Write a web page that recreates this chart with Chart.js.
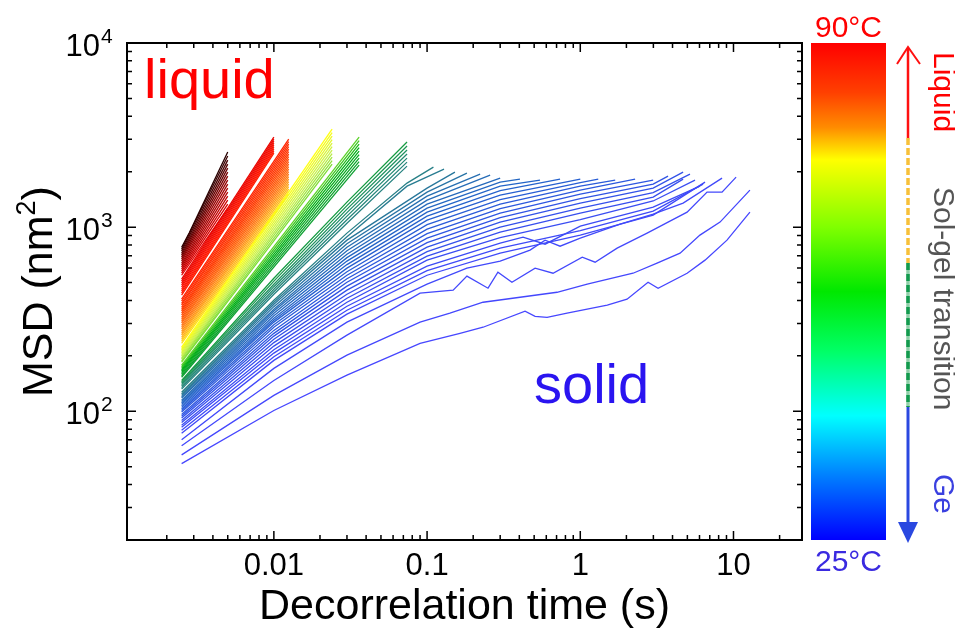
<!DOCTYPE html>
<html>
<head>
<meta charset="utf-8">
<script src="https://cdn.jsdelivr.net/npm/chart.js@4"></script>
<style>
  html, body { margin: 0; padding: 0; background: #fff; overflow: hidden; }
</style>
</head>
<body>
<canvas id="msdChart" width="955" height="628"></canvas>
<script>
// sample temperature (°C) of each MSD curve, cold -> hot
const temperatures = [
  25, 25.5, 26, 26.5, 27, 27.5, 28, 28.5, 29, 29.5, 30, 30.5, 31, 31.5, 32, 32.5, 33, 33.5,
  34, 34.5, 35, 35.5, 36, 37, 38, 39, 40,
  41, 42, 43, 44, 45, 46, 47,
  48, 49, 50, 51, 52, 53, 54, 55, 56,
  57, 57.5, 58, 58.5, 59, 59.5, 60, 60.5, 61, 61.5, 62,
  63, 63.5, 64, 64.5, 65, 65.5, 66, 66.5, 67, 67.5, 68, 68.5, 69, 69.5, 70, 70.5, 71, 71.5,
  72, 72.5, 73, 73.5, 74,
  75, 75.5, 76, 76.5, 77, 77.5, 78, 78.5, 79,
  80, 80.7, 81.4, 82.1, 82.9, 83.6, 84.3, 85, 85.7, 86.4, 87.1, 87.9, 88.6, 89.3, 90
];

// [decorrelation time (s), MSD (nm^2)], one list per temperature
const msdCurves = [
  // gel
  [[0.0025,52],[0.01,101],[0.03,157],[0.09,234],[0.164,265],[0.232,286],[0.436,350],[0.507,328],[0.607,324],[0.82,341],[1.5,377],[2.02,406],[2.77,502],[3.22,466],[4.98,562],[6.52,662],[9.07,850],[12.8,1206]],
  [[0.0025,58],[0.01,122],[0.03,202],[0.09,305],[0.141,341],[0.232,391],[0.705,443],[1.11,490],[2.21,562],[3.17,637],[4.48,722],[6.04,905],[8.17,1065],[12.8,1589]],
  [[0.0025,65],[0.01,147],[0.03,259],[0.09,438],[0.148,455],[0.182,542],[0.25,466],[0.29,569],[0.358,502],[0.507,599],[0.664,562],[1.03,687],[1.25,645],[1.74,769],[2.73,928],[3.74,1065],[4.98,1206],[6.72,1550],[8.42,1550],[10.4,1869]],
  [[0.0025,70],[0.01,171],[0.03,305],[0.1,490],[0.182,599],[0.3,654],[0.47,750],[0.589,850],[0.738,788],[1,871],[1.82,1038],[2.99,1177],[4.69,1350],[8.42,1846]],
  [[0.0025,76],[0.01,189],[0.03,337],[0.1,548],[0.3,722],[1,905],[2.99,1162],[6.52,1756]],
  [[0.0025,79],[0.01,198],[0.03,354],[0.1,580],[0.3,769],[1,957],[2.99,1222],[6.33,1712]],
  [[0.0025,82],[0.01,207],[0.03,372],[0.1,614],[0.3,818],[0.423,883],[0.589,808],[1,1013],[2.99,1284],[6.04,1670]],
  [[0.0025,84],[0.01,216],[0.03,391],[0.1,662],[0.3,877],[1,1099],[2.99,1387],[5.61,1800]],
  [[0.0025,87],[0.01,226],[0.03,411],[0.1,696],[0.3,939],[1,1192],[2.99,1455],[4.69,1823]],
  [[0.0025,89],[0.01,236],[0.03,432],[0.1,736],[0.3,1000],[1,1269],[2.99,1540],[5.2,1941]],
  [[0.0025,92],[0.01,246],[0.03,455],[0.1,778],[0.3,1065],[1,1350],[2.99,1629],[4.69,1991]],
  [[0.0025,94],[0.01,256],[0.03,478],[0.1,824],[0.3,1126],[1,1428],[2.99,1712],[3.74,1893]],
  [[0.0025,96],[0.01,265],[0.03,502],[0.1,871],[0.3,1192],[1,1511],[2.99,1800]],
  [[0.0025,99],[0.01,275],[0.03,525],[0.1,922],[0.3,1261],[1,1589],[2.28,1823]],
  [[0.0025,101],[0.01,286],[0.03,548],[0.1,975],[0.3,1334],[1,1670],[1.69,1800]],
  [[0.0025,103],[0.01,295],[0.03,573],[0.1,1032],[0.3,1411],[1,1745],[1.31,1823]],
  [[0.0025,105],[0.01,305],[0.03,599],[0.1,1092],[0.3,1493],[1,1823]],
  [[0.0025,107],[0.01,312],[0.03,626],[0.1,1148],[0.3,1579],[0.738,1823]],
  [[0.0025,109],[0.01,320],[0.03,654],[0.1,1206],[0.3,1670],[0.546,1800]],
  [[0.0025,111],[0.01,330],[0.03,683],[0.1,1269],[0.3,1756],[0.404,1823]],
  [[0.0025,113],[0.01,341],[0.03,713],[0.1,1334],[0.3,1846]],
  [[0.0025,115],[0.01,350],[0.03,745],[0.1,1402],[0.258,1918]],
  [[0.0025,118],[0.01,358],[0.03,778],[0.1,1474],[0.222,1941]],
  [[0.0025,120],[0.01,370],[0.03,813],[0.1,1550],[0.182,1966]],
  [[0.0025,122],[0.01,381],[0.03,850],[0.1,1629],[0.152,1991]],
  [[0.0025,124],[0.01,391],[0.03,888],[0.074,1670],[0.129,2067]],
  [[0.0025,127],[0.01,401],[0.03,928],[0.074,1734],[0.11,2119]],
  // sol-gel transition
  [[0.0025,132],[0.01,432],[0.03,1051],[0.074,2145]],
  [[0.0025,134.5],[0.01,446],[0.03,1098],[0.074,2255]],
  [[0.0025,137],[0.01,460],[0.03,1148],[0.074,2371]],
  [[0.0025,139.5],[0.01,475],[0.03,1199],[0.074,2493]],
  [[0.0025,142],[0.01,490],[0.03,1253],[0.074,2621]],
  [[0.0025,144.5],[0.01,509],[0.03,1309],[0.074,2756]],
  [[0.0025,147],[0.01,528],[0.03,1368],[0.074,2897]],
  [[0.0025,153],[0.036,2173]],
  [[0.0025,156],[0.036,2270]],
  [[0.0025,159],[0.036,2371]],
  [[0.0025,162],[0.036,2477]],
  [[0.0025,165],[0.036,2588]],
  [[0.0025,168],[0.036,2704]],
  [[0.0025,171],[0.036,2825]],
  [[0.0025,174.5],[0.036,2952]],
  [[0.0025,178],[0.036,3085]],
  [[0.0025,185],[0.024,2199]],
  [[0.0025,188],[0.024,2298]],
  [[0.0025,192],[0.024,2401]],
  [[0.0025,195],[0.024,2508]],
  [[0.0025,199],[0.024,2621]],
  [[0.0025,203],[0.024,2738]],
  [[0.0025,207],[0.024,2861]],
  [[0.0025,211],[0.024,2989]],
  [[0.0025,215],[0.024,3124]],
  [[0.0025,219],[0.024,3263]],
  [[0.0025,223],[0.024,3410]],
  // liquid
  [[0.0025,234],[0.0125,1511]],
  [[0.0025,240],[0.0125,1559]],
  [[0.0025,246],[0.0125,1609]],
  [[0.0025,252],[0.0125,1660]],
  [[0.0025,259],[0.0125,1712]],
  [[0.0025,265],[0.0125,1767]],
  [[0.0025,272],[0.0125,1823]],
  [[0.0025,279],[0.0125,1882]],
  [[0.0025,286],[0.0125,1941]],
  [[0.0025,293],[0.0125,2003]],
  [[0.0025,301],[0.0125,2067]],
  [[0.0025,308],[0.0125,2132]],
  [[0.0025,316],[0.0125,2199]],
  [[0.0025,324],[0.0125,2270]],
  [[0.0025,333],[0.0125,2342]],
  [[0.0025,341],[0.0125,2417]],
  [[0.0025,350],[0.0125,2493]],
  [[0.0025,358],[0.0125,2572]],
  [[0.0025,367],[0.0125,2654]],
  [[0.0025,377],[0.0125,2738]],
  [[0.0025,386],[0.0125,2825]],
  [[0.0025,396],[0.0125,2915]],
  [[0.0025,406],[0.0125,3008]],
  [[0.0025,427],[0.01,2524]],
  [[0.0025,438],[0.01,2588]],
  [[0.0025,449],[0.01,2654]],
  [[0.0025,460],[0.01,2721]],
  [[0.0025,472],[0.01,2790]],
  [[0.0025,484],[0.01,2861]],
  [[0.0025,496],[0.01,2934]],
  [[0.0025,509],[0.01,3008]],
  [[0.0025,522],[0.01,3085]],
  [[0.0025,548],[0.005,1269]],
  [[0.0025,562],[0.005,1334]],
  [[0.0025,577],[0.005,1402]],
  [[0.0025,591],[0.005,1474]],
  [[0.0025,606],[0.005,1550]],
  [[0.0025,622],[0.005,1629]],
  [[0.0025,637],[0.005,1712]],
  [[0.0025,654],[0.005,1800]],
  [[0.0025,670],[0.005,1893]],
  [[0.0025,687],[0.005,1991]],
  [[0.0025,705],[0.005,2093]],
  [[0.0025,722],[0.005,2199]],
  [[0.0025,741],[0.005,2313]],
  [[0.0025,759],[0.005,2432]],
  [[0.0025,778],[0.0028,928],[0.005,2556]]
];

const xMajorTicks = [0.01, 0.1, 1, 10];
const xTickLabels = ['0.01', '0.1', '1', '10'];
const yMajorTicks = [100, 1000, 10000];
const yTickExponents = ['2', '3', '4'];

// line colours by temperature
const lineStops = [
  [25, [70, 70, 255]], [28, [60, 75, 245]], [31, [45, 85, 225]], [34, [35, 100, 200]],
  [37, [40, 115, 165]], [40, [40, 128, 135]], [44, [35, 140, 110]], [48, [15, 160, 50]],
  [53, [0, 175, 20]], [56, [90, 210, 40]], [59, [200, 240, 80]], [62, [255, 255, 20]],
  [64, [255, 190, 30]], [67, [255, 120, 20]], [71, [255, 60, 0]], [76, [255, 20, 0]],
  [80, [225, 0, 0]], [85, [150, 0, 0]], [90, [40, 0, 0]]
];

function lineColor(t) {
  for (let i = 1; i < lineStops.length; i++) {
    if (t <= lineStops[i][0]) {
      const [t0, c0] = lineStops[i - 1], [t1, c1] = lineStops[i];
      const f = (t - t0) / (t1 - t0);
      const c = c0.map((v, k) => Math.round(v + (c1[k] - v) * f));
      return `rgb(${c[0]},${c[1]},${c[2]})`;
    }
  }
  const c = lineStops[lineStops.length - 1][1];
  return `rgb(${c[0]},${c[1]},${c[2]})`;
}

const FONT = '"Liberation Sans", Arial, sans-serif';

function vText(ctx, str, x, y, color) {
  ctx.save();
  ctx.translate(x, y);
  ctx.rotate(Math.PI / 2);
  ctx.fillStyle = color;
  ctx.textAlign = 'left';
  ctx.textBaseline = 'alphabetic';
  ctx.fillText(str, 0, 0);
  ctx.restore();
}

const overlay = {
  id: 'overlay',
  afterDraw(chart) {
    const ctx = chart.ctx;
    const a = chart.chartArea;
    const xs = chart.scales.x, ys = chart.scales.y;
    ctx.save();

    // frame
    ctx.strokeStyle = '#000';
    ctx.lineWidth = 2;
    ctx.strokeRect(a.left, a.top, a.right - a.left, a.bottom - a.top);

    // inward ticks
    ctx.lineWidth = 1.5;
    ctx.beginPath();
    for (let e = -3; e <= 1; e++) {
      for (let k = 1; k <= 9; k++) {
        const v = k * Math.pow(10, e);
        if (v <= xs.min || v >= xs.max) continue;
        const px = xs.getPixelForValue(v);
        const len = k === 1 ? 9 : 5;
        ctx.moveTo(px, a.bottom); ctx.lineTo(px, a.bottom - len);
        ctx.moveTo(px, a.top); ctx.lineTo(px, a.top + len);
      }
    }
    for (let e = 1; e <= 3; e++) {
      for (let k = 1; k <= 9; k++) {
        const v = k * Math.pow(10, e);
        if (v <= ys.min || v >= ys.max) continue;
        const py = ys.getPixelForValue(v);
        const len = k === 1 ? 9 : 5;
        ctx.moveTo(a.left, py); ctx.lineTo(a.left + len, py);
        ctx.moveTo(a.right, py); ctx.lineTo(a.right - len, py);
      }
    }
    ctx.stroke();

    // tick labels
    ctx.fillStyle = '#000';
    ctx.font = '31px ' + FONT;
    ctx.textAlign = 'center';
    ctx.textBaseline = 'alphabetic';
    xMajorTicks.forEach((v, i) => {
      ctx.fillText(xTickLabels[i], xs.getPixelForValue(v), 575);
    });
    yMajorTicks.forEach((v, i) => {
      const py = ys.getPixelForValue(v);
      ctx.font = '31px ' + FONT;
      ctx.textAlign = 'right';
      ctx.fillText('10', 100, py + 13);
      ctx.font = '21px ' + FONT;
      ctx.textAlign = 'left';
      ctx.fillText(yTickExponents[i], 101, py);
    });

    // axis titles
    ctx.font = '43px ' + FONT;
    ctx.textAlign = 'center';
    ctx.fillText('Decorrelation time (s)', (a.left + a.right) / 2, 619);

    ctx.save();
    ctx.translate(52, (a.top + a.bottom) / 2);
    ctx.rotate(-Math.PI / 2);
    ctx.textAlign = 'left';
    const big = '43px ' + FONT, small = '27px ' + FONT;
    ctx.font = big;
    const w1 = ctx.measureText('MSD (nm').width;
    ctx.font = small;
    const w2 = ctx.measureText('2').width;
    ctx.font = big;
    const w3 = ctx.measureText(')').width;
    const x0 = -(w1 + w2 + w3) / 2;
    ctx.fillText('MSD (nm', x0, 0);
    ctx.font = small;
    ctx.fillText('2', x0 + w1, -17);
    ctx.font = big;
    ctx.fillText(')', x0 + w1 + w2, 0);
    ctx.restore();

    // in-plot annotations
    ctx.font = '56px ' + FONT;
    ctx.textAlign = 'left';
    ctx.fillStyle = '#ff0000';
    ctx.fillText('liquid', 144, 98);
    ctx.fillStyle = '#2a14f0';
    ctx.fillText('solid', 534, 403);

    // colour bar
    const cbL = 811, cbR = 886;
    const g = ctx.createLinearGradient(0, a.top, 0, a.bottom);
    g.addColorStop(0, '#ff0000');
    g.addColorStop(0.1, '#ff4000');
    g.addColorStop(0.17, '#ff8c00');
    g.addColorStop(0.235, '#ffff00');
    g.addColorStop(0.37, '#80ff00');
    g.addColorStop(0.5, '#00e800');
    g.addColorStop(0.62, '#00ff66');
    g.addColorStop(0.75, '#00ffff');
    g.addColorStop(0.87, '#0080ff');
    g.addColorStop(1, '#0000ff');
    ctx.fillStyle = g;
    ctx.fillRect(cbL, a.top, cbR - cbL, a.bottom - a.top);

    ctx.font = '30px ' + FONT;
    ctx.textAlign = 'center';
    ctx.fillStyle = '#ff0000';
    ctx.fillText('90°C', (cbL + cbR) / 2, 37);
    ctx.fillStyle = '#3a2ae0';
    ctx.fillText('25°C', (cbL + cbR) / 2, 571);

    // state arrow
    const ax = 908;
    ctx.lineCap = 'butt';
    ctx.strokeStyle = '#ff1010';
    ctx.lineWidth = 2.5;
    ctx.beginPath();
    ctx.moveTo(ax, 48); ctx.lineTo(ax, 138);
    ctx.stroke();
    ctx.lineWidth = 2;
    ctx.beginPath();
    ctx.moveTo(897, 64); ctx.lineTo(ax, 47); ctx.lineTo(920, 64);
    ctx.stroke();

    ctx.lineWidth = 3.5;
    ctx.strokeStyle = '#f7c038';
    ctx.setLineDash([7, 3]);
    ctx.beginPath();
    ctx.moveTo(ax, 138); ctx.lineTo(ax, 263);
    ctx.stroke();
    ctx.setLineDash([]);
    ctx.strokeStyle = '#8fd0a8';
    ctx.beginPath();
    ctx.moveTo(ax, 263); ctx.lineTo(ax, 407);
    ctx.stroke();
    ctx.strokeStyle = '#139a4e';
    ctx.setLineDash([7, 4]);
    ctx.beginPath();
    ctx.moveTo(ax, 263); ctx.lineTo(ax, 407);
    ctx.stroke();
    ctx.setLineDash([]);

    ctx.strokeStyle = '#2a48e0';
    ctx.lineWidth = 3;
    ctx.beginPath();
    ctx.moveTo(ax, 407); ctx.lineTo(ax, 524);
    ctx.stroke();
    ctx.fillStyle = '#2a48e0';
    ctx.beginPath();
    ctx.moveTo(898, 522); ctx.lineTo(918, 522); ctx.lineTo(ax, 543);
    ctx.closePath();
    ctx.fill();

    ctx.font = '30px ' + FONT;
    vText(ctx, 'Liquid', 934, 52, '#ff0000');
    vText(ctx, 'Sol-gel transition', 934, 187, '#555555');
    vText(ctx, 'Ge', 934, 474, '#3a40e0');

    ctx.restore();
  }
};

new Chart(document.getElementById('msdChart').getContext('2d'), {
  type: 'line',
  data: {
    datasets: msdCurves.map((c, i) => ({
      data: c.map(p => ({ x: p[0], y: p[1] })),
      borderColor: lineColor(temperatures[i]),
      borderWidth: 1.3,
      pointRadius: 0,
      fill: false,
      tension: 0
    }))
  },
  options: {
    responsive: false,
    animation: false,
    layout: { padding: { left: 127, right: 153, top: 43, bottom: 88 } },
    plugins: { legend: { display: false }, tooltip: { enabled: false } },
    scales: {
      x: { type: 'logarithmic', min: 0.0011, max: 28, display: false },
      y: { type: 'logarithmic', min: 20, max: 10000, display: false }
    }
  },
  plugins: [overlay]
});
</script>
</body>
</html>
